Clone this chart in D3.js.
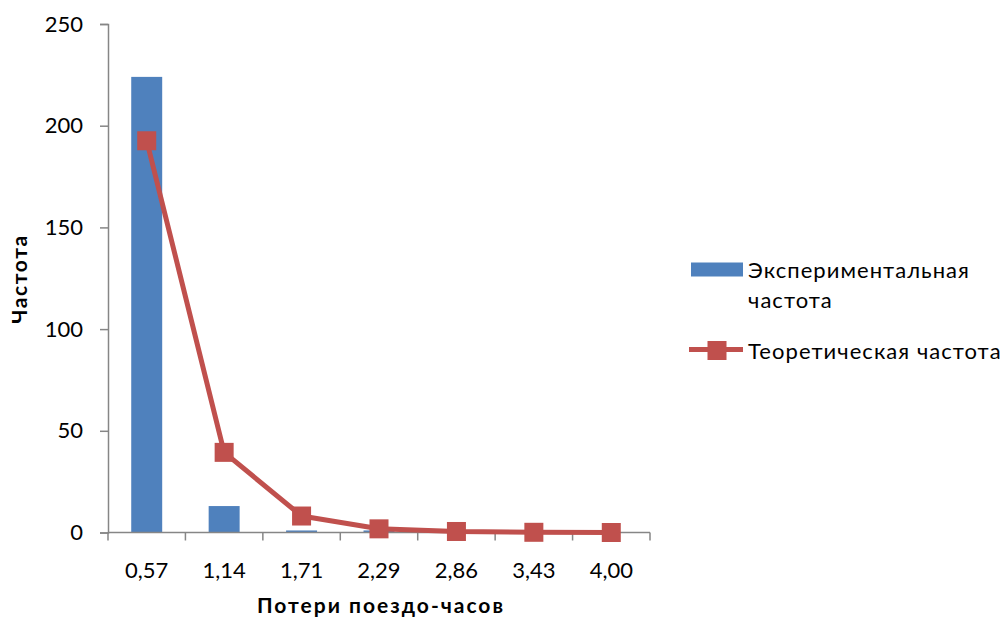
<!DOCTYPE html>
<html>
<head>
<meta charset="utf-8">
<script src="https://cdn.jsdelivr.net/npm/d3@7"></script>
<style>
  html, body { margin: 0; padding: 0; background: #fff; }
  svg { display: block; font-family: Lato, "Open Sans", sans-serif; }
</style>
</head>
<body>
<svg id="chart" width="1007" height="617"></svg>
<script>
// Categories: train-hour losses
const categories = ["0,57", "1,14", "1,71", "2,29", "2,86", "3,43", "4,00"];
// Observed frequency per class
const experimental = [224, 13, 1, 1, 1, 0, 0];
// Theoretical frequency per class
const theoretical = [192.6, 39.4, 8.1, 1.8, 0.5, 0.1, 0];
const yTicks = [0, 50, 100, 150, 200, 250];

const seriesNames = ["Экспериментальная", "частота"];
const lineName = "Теоретическая частота";
const xTitle = "Потери поездо-часов";
const yTitle = "Частота";

const BLUE = "#4F81BD", RED = "#C0504D", AXIS = "#868686";
const FONT = 'Lato, "Open Sans", sans-serif';

const svg = d3.select("#chart");
const plot = { left: 108, right: 650, top: 24, bottom: 532.5 };

const x = d3.scaleBand().domain(categories).range([plot.left, plot.right]).paddingInner(0).paddingOuter(0);
const y = d3.scaleLinear().domain([0, 250]).range([plot.bottom, plot.top]);
const barW = x.bandwidth() / 2.5;

// bars
svg.append("g").selectAll("rect").data(experimental).join("rect")
  .attr("x", (d, i) => x(categories[i]) + (x.bandwidth() - barW) / 2)
  .attr("y", d => y(d))
  .attr("width", barW)
  .attr("height", d => y(0) - y(d))
  .attr("fill", BLUE);

// y axis
const yAxis = svg.append("g").attr("transform", `translate(${plot.left},0)`)
  .call(d3.axisLeft(y).tickValues(yTicks).tickSize(8).tickPadding(17).tickFormat(d3.format("d")));
yAxis.select(".domain").attr("stroke", AXIS).attr("stroke-width", 1.5);
yAxis.selectAll(".tick line").attr("stroke", AXIS).attr("stroke-width", 1.5);
yAxis.selectAll(".tick text").attr("fill", "#000").style("font-size", "22px").style("font-family", FONT);

// x axis with tick marks at category boundaries
const xAxisG = svg.append("g").attr("transform", `translate(0,${plot.bottom})`);
xAxisG.append("line").attr("x1", plot.left).attr("x2", plot.right)
  .attr("stroke", AXIS).attr("stroke-width", 1.5);
const bounds = categories.map(c => x(c)).concat([x(categories[categories.length - 1]) + x.bandwidth()]);
xAxisG.selectAll("line.tk").data(bounds).join("line").attr("class", "tk")
  .attr("x1", d => d).attr("x2", d => d).attr("y1", 0).attr("y2", 8)
  .attr("stroke", AXIS).attr("stroke-width", 1.5);
xAxisG.selectAll("text").data(categories).join("text")
  .attr("x", d => x(d) + x.bandwidth() / 2)
  .attr("y", 45.5)
  .attr("text-anchor", "middle")
  .style("font-size", "22px")
  .text(d => d);

// theoretical line
const cx = c => x(c) + x.bandwidth() / 2;
const line = d3.line().x((d, i) => cx(categories[i])).y(d => y(d));
svg.append("path").datum(theoretical)
  .attr("d", line).attr("fill", "none").attr("stroke", RED).attr("stroke-width", 5).attr("stroke-linejoin", "round");
const ms = 19;
svg.append("g").selectAll("rect").data(theoretical).join("rect")
  .attr("x", (d, i) => cx(categories[i]) - ms / 2)
  .attr("y", d => y(d) - ms / 2)
  .attr("width", ms).attr("height", ms)
  .attr("fill", RED);

// axis titles
svg.append("text").attr("x", 381).attr("y", 613).attr("text-anchor", "middle")
  .style("font-size", "21px").style("font-weight", "bold").style("letter-spacing", "2px").text(xTitle);
svg.append("text").attr("transform", "translate(27,279) rotate(-90)").attr("text-anchor", "middle")
  .style("font-size", "21px").style("font-weight", "bold").style("letter-spacing", "1.6px").text(yTitle);

// legend
const lg = svg.append("g").style("font-size", "22px").style("letter-spacing", "1.05px");
lg.append("rect").attr("x", 691).attr("y", 262.5).attr("width", 52).attr("height", 14).attr("fill", BLUE);
lg.append("text").attr("x", 748).attr("y", 278).text(seriesNames[0]);
lg.append("text").attr("x", 748).attr("y", 308).text(seriesNames[1]);
lg.append("line").attr("x1", 689).attr("x2", 743).attr("y1", 349.5).attr("y2", 349.5)
  .attr("stroke", RED).attr("stroke-width", 5);
lg.append("rect").attr("x", 717 - ms / 2).attr("y", 350.5 - ms / 2).attr("width", ms).attr("height", ms).attr("fill", RED);
lg.append("text").attr("x", 748).attr("y", 358.5).text(lineName);
</script>
</body>
</html>
